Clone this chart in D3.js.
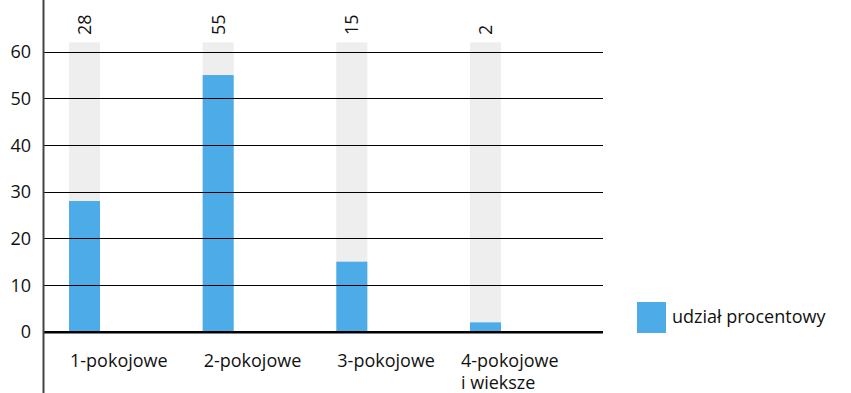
<!DOCTYPE html>
<html><head><meta charset="utf-8">
<script src="https://cdn.jsdelivr.net/npm/d3@7"></script>
<style>body{margin:0;background:#fff}svg{display:block}text{font-family:"Open Sans",sans-serif;fill:#111}</style>
</head><body>
<svg id="c" width="851" height="393"></svg>
<script>
const categories = [["1-pokojowe"], ["2-pokojowe"], ["3-pokojowe"], ["4-pokojowe", "i wieksze"]];
const values = [28, 55, 15, 2];
const backgroundMax = 62;
const yTicks = [0, 10, 20, 30, 40, 50, 60];
const seriesName = "udział procentowy";

const svg = d3.select("#c");
const keys = categories.map(c => c.join(" "));
const x = d3.scaleBand().domain(keys).range([69, 501]).paddingInner(0.768).paddingOuter(0);
const y = d3.scaleLinear().domain([0, 60]).range([331.7, 51.7]);
const left = 43, right = 603;
const fs = 18;

// background bars
svg.selectAll("rect.bg").data(keys).join("rect")
  .attr("x", d => x(d)).attr("width", x.bandwidth())
  .attr("y", y(backgroundMax)).attr("height", y(0) - y(backgroundMax))
  .attr("fill", "#eeeeee");

// value bars
svg.selectAll("rect.v").data(values).join("rect")
  .attr("x", (d, i) => x(keys[i])).attr("width", x.bandwidth())
  .attr("y", d => y(d)).attr("height", d => y(0) - y(d))
  .attr("fill", "#4dabe8");

// grid lines
svg.selectAll("line.g").data(yTicks.filter(t => t > 0)).join("line")
  .attr("x1", left).attr("x2", right)
  .attr("y1", d => Math.round(y(d)) + 0.5).attr("y2", d => Math.round(y(d)) + 0.5)
  .attr("stroke", "#000").attr("stroke-width", 1);
svg.append("line").attr("x1", left).attr("x2", right)
  .attr("y1", y(0) + 0.5).attr("y2", y(0) + 0.5)
  .attr("stroke", "#000").attr("stroke-width", 2.5);

// y axis line
svg.append("line").attr("x1", 43.5).attr("x2", 43.5).attr("y1", 0).attr("y2", 393)
  .attr("stroke", "#444").attr("stroke-width", 2);

// y tick labels
svg.selectAll("text.yt").data(yTicks).join("text")
  .attr("x", 31).attr("y", d => y(d)).attr("dy", "0.36em")
  .attr("text-anchor", "end").attr("font-size", fs).text(d => d);

// value labels rotated
svg.selectAll("text.vl").data(values).join("text")
  .attr("transform", (d, i) => `translate(${x(keys[i]) + x.bandwidth() / 2 + 6.5},35) rotate(-90)`)
  .attr("font-size", fs).text(d => d);

// category labels
categories.forEach((c, i) => {
  const px = x(keys[i]) + (c.length > 1 ? -9 : 1);
  const t = svg.append("text").attr("font-size", fs).attr("x", px).attr("y", 367);
  c.forEach((line, j) => t.append("tspan").attr("x", px)
    .attr("dy", j === 0 ? 0 : 22).text(line));
});

// legend
svg.append("rect").attr("x", 637).attr("y", 302).attr("width", 29).attr("height", 31).attr("fill", "#4dabe8");
svg.append("text").attr("x", 672).attr("y", 323).attr("font-size", fs).text(seriesName);
</script>
</body></html>
